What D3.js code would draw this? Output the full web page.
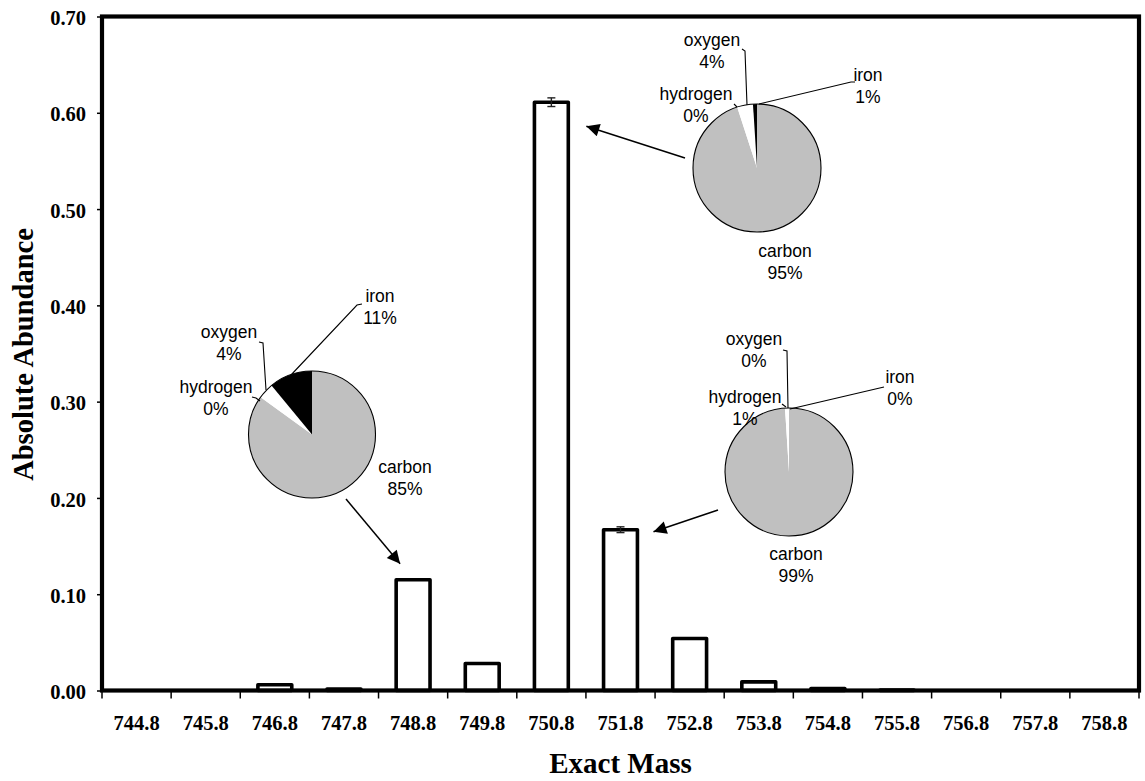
<!DOCTYPE html>
<html>
<head>
<meta charset="utf-8">
<script src="https://cdn.jsdelivr.net/npm/d3@7/dist/d3.min.js"></script>
<style>
  html, body { margin: 0; padding: 0; background: #fff; }
  svg { display: block; }
</style>
</head>
<body>
<svg id="chart" width="1145" height="781"></svg>
<script>
// Isotope envelope: absolute abundance per exact mass
const masses = ["744.8", "745.8", "746.8", "747.8", "748.8", "749.8", "750.8",
                "751.8", "752.8", "753.8", "754.8", "755.8", "756.8", "757.8", "758.8"];
const abundance = [0, 0, 0.006, 0.0015, 0.115, 0.028, 0.611, 0.167, 0.054, 0.009, 0.002, 0.0005, 0, 0, 0];
const abundanceErr = [0, 0, 0, 0, 0, 0, 0.0045, 0.003, 0, 0, 0, 0, 0, 0, 0];
const yTicks = [0, 0.1, 0.2, 0.3, 0.4, 0.5, 0.6, 0.7];

// Elemental contribution (%) to selected peaks
const elements = ["carbon", "hydrogen", "oxygen", "iron"];
const elementColors = ["#c0c0c0", "#ffffff", "#ffffff", "#000000"];
const comp748 = [85, 0, 4, 11];
const comp750 = [95, 0, 4, 1];
const comp751 = [99, 1, 0, 0];

const svg = d3.select("#chart");
const W = 1145, H = 781;
const m = { left: 102, right: 1139, top: 16.5, bottom: 690.5 };

const x = d3.scaleBand().domain(masses).range([m.left, m.right]).paddingInner(0).paddingOuter(0);
const y = d3.scaleLinear().domain([0, 0.7]).range([m.bottom, m.top]);

const serif = "'Liberation Serif', 'Times New Roman', serif";
const sans = "'Liberation Sans', Arial, sans-serif";

// Y axis ticks and labels
const yAxis = d3.axisLeft(y).tickValues(yTicks).tickFormat(d3.format(".2f")).tickSize(5).tickPadding(11);
const gy = svg.append("g").attr("transform", `translate(${m.left},0)`).call(yAxis);
gy.select(".domain").remove();
gy.selectAll(".tick line").attr("stroke", "#000").attr("stroke-width", 1.5);
gy.selectAll(".tick text")
  .attr("font-family", serif).attr("font-weight", "bold").attr("font-size", 20.5)
  .attr("fill", "#000").attr("dy", "0.4em");

// X axis: ticks at category boundaries, labels at category centres
const edges = masses.map(d => x(d)).concat([x.range()[1]]);
svg.append("g").selectAll("line").data(edges).join("line")
  .attr("x1", d => d).attr("x2", d => d)
  .attr("y1", m.bottom).attr("y2", m.bottom + 8)
  .attr("stroke", "#000").attr("stroke-width", 1.5);
svg.append("g").selectAll("text").data(masses).join("text")
  .attr("x", d => x(d) + x.bandwidth() / 2)
  .attr("y", 730)
  .attr("text-anchor", "middle")
  .attr("font-family", serif).attr("font-weight", "bold").attr("font-size", 20.5)
  .text(d => d);

// Axis titles
svg.append("text")
  .attr("x", (m.left + m.right) / 2).attr("y", 773)
  .attr("text-anchor", "middle")
  .attr("font-family", serif).attr("font-weight", "bold").attr("font-size", 29)
  .text("Exact Mass");
svg.append("text")
  .attr("transform", `translate(33,${(m.top + m.bottom) / 2 + 1}) rotate(-90)`)
  .attr("text-anchor", "middle")
  .attr("font-family", serif).attr("font-weight", "bold").attr("font-size", 28.5)
  .text("Absolute Abundance");

// Bars
const barW = x.bandwidth() * 0.49;
const bars = masses.map((d, i) => ({ mass: d, v: abundance[i], e: abundanceErr[i] })).filter(d => d.v > 0);
svg.append("g").selectAll("rect").data(bars).join("rect")
  .attr("x", d => x(d.mass) + (x.bandwidth() - barW) / 2)
  .attr("width", barW)
  .attr("y", d => y(d.v))
  .attr("height", d => y(0) - y(d.v))
  .attr("fill", "#fff").attr("stroke", "#000").attr("stroke-width", 3.6)
  .attr("stroke-linejoin", "round");

// Error bars
const errG = svg.append("g").attr("stroke", "#222").attr("stroke-width", 1.4);
bars.filter(d => d.e > 0).forEach(d => {
  const cx = x(d.mass) + x.bandwidth() / 2;
  errG.append("line").attr("x1", cx).attr("x2", cx).attr("y1", y(d.v + d.e)).attr("y2", y(d.v - d.e));
  [d.v + d.e, d.v - d.e].forEach(v => {
    errG.append("line").attr("x1", cx - 4).attr("x2", cx + 4).attr("y1", y(v)).attr("y2", y(v));
  });
});

// Plot frame
svg.append("rect")
  .attr("x", m.left).attr("y", m.top)
  .attr("width", m.right - m.left).attr("height", m.bottom - m.top)
  .attr("fill", "none").attr("stroke", "#000").attr("stroke-width", 4.2);

// Arrow marker
svg.append("defs").append("marker")
  .attr("id", "head").attr("viewBox", "0 0 10 10")
  .attr("refX", 10).attr("refY", 5)
  .attr("markerUnits", "userSpaceOnUse")
  .attr("markerWidth", 17).attr("markerHeight", 13)
  .attr("orient", "auto")
  .append("path").attr("d", "M0,0 L10,5 L0,10 Z").attr("fill", "#000");

// Composition pies with callout labels
const pie = d3.pie().sort(null).value(d => d);
const arc = d3.arc().innerRadius(0);

const insets = [
  {
    values: comp748, cx: 312, cy: 434.5, r: 63.5,
    target: { mass: "748.8", dx: -13, dy: -16 }, from: [346, 499],
    labels: [
      { x: 405, y: 473 },
      { x: 216, y: 393, leader: [[252, 397], [256, 398], [260, 401]] },
      { x: 229, y: 338, leader: [[259, 342], [263, 343], [266, 390]] },
      { x: 380, y: 302, leader: [[362, 304], [357, 305], [291, 375]] }
    ]
  },
  {
    values: comp750, cx: 757, cy: 168, r: 64,
    target: { mass: "750.8", dx: 35, dy: 24 }, from: [685, 158],
    labels: [
      { x: 785, y: 257 },
      { x: 696, y: 100, leader: [[734, 104], [737, 107]] },
      { x: 712, y: 46, leader: [[742, 49], [745, 51], [747, 105]] },
      { x: 868, y: 81, leader: [[855, 82], [851, 82], [759, 104]] }
    ]
  },
  {
    values: comp751, cx: 789, cy: 472, r: 64,
    target: { mass: "751.8", dx: 33, dy: 2 }, from: [718, 510],
    labels: [
      { x: 796, y: 560 },
      { x: 745, y: 403, leader: [[782, 404], [786, 407]] },
      { x: 754, y: 345, leader: [[783, 350], [787, 351], [788, 408]] },
      { x: 900, y: 383, leader: [[884, 387], [790, 409]] }
    ]
  }
];

insets.forEach(p => {
  const g = svg.append("g");
  const slices = pie(p.values);
  g.append("g").attr("transform", `translate(${p.cx},${p.cy})`)
    .selectAll("path").data(slices.filter(s => s.value > 0)).join("path")
    .attr("d", s => arc.outerRadius(p.r)(s))
    .attr("fill", s => elementColors[s.index]);
  g.append("circle").attr("cx", p.cx).attr("cy", p.cy).attr("r", p.r)
    .attr("fill", "none").attr("stroke", "#000").attr("stroke-width", 1.1);

  p.labels.forEach((lb, i) => {
    if (lb.leader) {
      g.append("path").attr("d", d3.line()(lb.leader))
        .attr("fill", "none").attr("stroke", "#000").attr("stroke-width", 1.1);
    }
    const t = g.append("text")
      .attr("text-anchor", "middle")
      .attr("font-family", sans).attr("font-size", 17.5).attr("fill", "#000");
    t.append("tspan").attr("x", lb.x).attr("y", lb.y).text(elements[i]);
    t.append("tspan").attr("x", lb.x).attr("y", lb.y + 21.5).text(p.values[i] + "%");
  });

  // Arrow pointing from the pie to its bar
  const bi = masses.indexOf(p.target.mass);
  const tipX = x(p.target.mass) + x.bandwidth() / 2 + p.target.dx;
  const tipY = y(abundance[bi]) + p.target.dy;
  svg.append("line")
    .attr("x1", p.from[0]).attr("y1", p.from[1])
    .attr("x2", tipX).attr("y2", tipY)
    .attr("stroke", "#000").attr("stroke-width", 1.5)
    .attr("marker-end", "url(#head)");
});
</script>
</body>
</html>
